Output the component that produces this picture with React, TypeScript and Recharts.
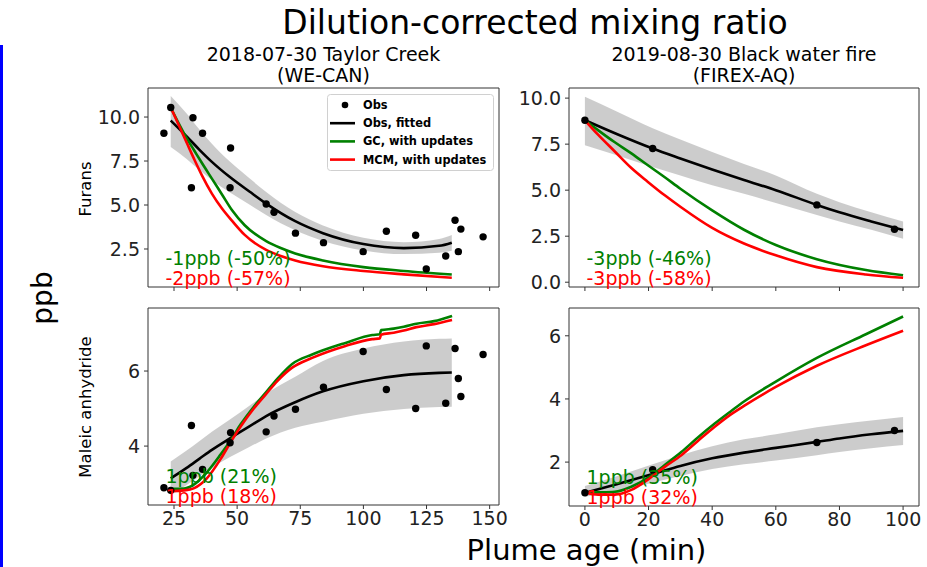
import React from 'react';
import { Area, ComposedChart, Line, ReferenceArea, Scatter, XAxis, YAxis } from 'recharts';

// ---- 2018-07-30 Taylor Creek (WE-CAN) ----
const TC_OBS_AGE = [21.0, 23.7, 31.9, 32.5, 36.3, 47.2, 47.4, 61.5, 64.6, 73.1, 84.2, 99.9, 109.1, 120.7, 124.9, 132.6, 136.3, 137.6, 138.6, 147.4];
const tcFuransObs = [9.08, 10.54, 5.98, 9.96, 9.08, 5.98, 8.24, 5.06, 4.59, 3.4, 2.86, 2.35, 3.51, 3.28, 1.37, 2.1, 4.13, 2.35, 3.63, 3.19];
const tcMaleicObs = [2.89, 2.82, 4.55, 3.22, 3.38, 4.09, 4.36, 4.38, 4.8, 4.98, 5.57, 6.52, 5.51, 5.0, 6.67, 5.14, 6.6, 5.8, 5.32, 6.44];

const TC_FIT_AGE = [23.7, 30, 35, 40, 47, 55, 61.5, 73, 84, 100, 116, 130, 135];
const tcFuransFit = [9.8, 8.9, 8.15, 7.45, 6.6, 5.75, 5.08, 4.08, 3.4, 2.78, 2.55, 2.68, 2.86];
const tcFuransHi = [11.2, 10.2, 9.3, 8.48, 7.48, 6.5, 5.74, 4.6, 3.84, 3.14, 2.89, 3.07, 3.3];
const tcFuransLo = [8.3, 7.62, 7.0, 6.42, 5.72, 5.01, 4.43, 3.56, 2.96, 2.42, 2.21, 2.29, 2.4];
const tcMaleicFit = [3.14, 3.42, 3.66, 3.9, 4.2, 4.53, 4.8, 5.17, 5.46, 5.73, 5.89, 5.95, 5.96];
const tcMaleicHi = [3.59, 3.88, 4.13, 4.38, 4.7, 5.08, 5.4, 5.85, 6.27, 6.6, 6.79, 6.86, 6.87];
const tcMaleicLo = [2.69, 2.96, 3.19, 3.42, 3.7, 3.98, 4.2, 4.49, 4.65, 4.86, 4.99, 5.04, 5.05];

const TC_FURANS_MODEL_AGE = [23.7, 27, 30, 33, 36, 40, 44, 48, 53, 61.5, 67, 73, 84, 100, 116, 135];
const tcFuransGC = [10.54, 9.6, 8.8, 8.1, 7.4, 6.5, 5.6, 4.7, 3.85, 2.95, 2.57, 2.25, 1.85, 1.47, 1.25, 1.05];
const tcFuransMCM = [10.54, 9.5, 8.55, 7.6, 6.7, 5.65, 4.8, 4.1, 3.3, 2.45, 2.12, 1.85, 1.52, 1.25, 1.06, 0.87];

const TC_MALEIC_MODEL_AGE = [23.7, 29, 33, 38, 43.5, 47.4, 51.4, 56.6, 61.5, 66, 71.8, 79.7, 92.9, 103.5, 106.5, 107, 112, 116, 121, 128, 135.1];
const tcMaleicGC = [2.86, 2.87, 2.98, 3.3, 3.78, 4.15, 4.58, 5.05, 5.44, 5.8, 6.19, 6.44, 6.75, 6.96, 6.98, 7.09, 7.13, 7.18, 7.26, 7.33, 7.47];
const tcMaleicMCM = [2.8, 2.82, 2.88, 3.14, 3.66, 4.1, 4.52, 5.0, 5.39, 5.74, 6.09, 6.35, 6.67, 6.85, 6.87, 6.97, 7.02, 7.08, 7.17, 7.25, 7.36];

// ---- 2019-08-30 Black water fire (FIREX-AQ) ----
const BW_OBS_AGE = [0, 21.3, 72.9, 97.3];
const bwFuransObs = [8.8, 7.26, 4.2, 2.88];
const bwMaleicObs = [1.03, 1.76, 2.62, 3.0];

const BW_FIT_AGE = [0, 10, 21.3, 30, 40, 50, 60, 72.9, 80, 90, 100];
const bwFuransFit = [8.8, 8.05, 7.26, 6.72, 6.12, 5.55, 5.0, 4.2, 3.8, 3.3, 2.83];
const bwFuransHi = [10.07, 9.28, 8.36, 7.75, 7.07, 6.42, 5.8, 4.8, 4.35, 3.8, 3.3];
const bwFuransLo = [7.44, 6.9, 6.26, 5.8, 5.27, 4.8, 4.3, 3.65, 3.3, 2.85, 2.36];
const bwMaleicFit = [1.03, 1.3, 1.62, 1.88, 2.12, 2.3, 2.45, 2.64, 2.75, 2.88, 2.99];
const bwMaleicHi = [1.24, 1.55, 1.93, 2.22, 2.5, 2.72, 2.88, 3.1, 3.2, 3.32, 3.43];
const bwMaleicLo = [0.9, 1.08, 1.35, 1.56, 1.78, 1.93, 2.05, 2.22, 2.32, 2.44, 2.54];

const BW_FURANS_MODEL_AGE = [0, 4.2, 9.4, 14.6, 19.8, 25.1, 30, 40, 50, 60, 72.9, 88.3, 100];
const bwFuransGC = [8.8, 8.25, 7.6, 7.0, 6.35, 5.7, 5.08, 3.9, 2.85, 2.02, 1.25, 0.66, 0.38];
const bwFuransMCM = [8.8, 8.0, 7.1, 6.2, 5.45, 4.72, 4.1, 2.95, 2.1, 1.46, 0.82, 0.42, 0.24];

const BW_MALEIC_MODEL_AGE = [0, 4.2, 9.4, 14.6, 20.4, 25.1, 30.3, 35.5, 40.8, 46, 50, 60, 72.9, 88.3, 100];
const bwMaleicGC = [1.03, 1.04, 1.06, 1.22, 1.54, 1.91, 2.32, 2.78, 3.22, 3.62, 3.92, 4.55, 5.3, 6.05, 6.61];
const bwMaleicMCM = [1.03, 0.97, 0.97, 1.12, 1.49, 1.85, 2.22, 2.67, 3.12, 3.52, 3.78, 4.38, 5.05, 5.7, 6.16];

// axis ticks
const TC_AGE_TICKS = [25, 50, 75, 100, 125, 150];
const BW_AGE_TICKS = [0, 20, 40, 60, 80, 100];
const FURANS_TICKS_TC = [2.5, 5, 7.5, 10];
const FURANS_TICKS_BW = [0, 2.5, 5, 7.5, 10];
const MALEIC_TICKS_TC = [4, 6];
const MALEIC_TICKS_BW = [2, 4, 6];

// change labels (model vs obs)
const tcFuransNotes = ['-1ppb (-50%)', '-2ppb (-57%)'];
const bwFuransNotes = ['-3ppb (-46%)', '-3ppb (-58%)'];
const tcMaleicNotes = ['1ppb (21%)', '1ppb (18%)'];
const bwMaleicNotes = ['1ppb (35%)', '1ppb (32%)'];

const LEGEND_NAMES = ['Obs', 'Obs, fitted', 'GC, with updates', 'MCM, with updates'];

const INK = '#333';
const GREEN = '#008000';
const RED = '#ff0000';
const FONT = '"DejaVu Sans", Verdana, sans-serif';

type Pt = { x: number; y: number };
type BandPt = { x: number; band: [number, number] };

const pts = (xs: number[], ys: number[]): Pt[] => xs.map((x, i) => ({ x, y: ys[i] }));
const bandPts = (xs: number[], lo: number[], hi: number[]): BandPt[] =>
  xs.map((x, i) => ({ x, band: [lo[i], hi[i]] }));

interface Box { left: number; top: number; right: number; bottom: number }

interface PanelProps {
  box: Box;
  xDomain: [number, number];
  yDomain: [number, number];
  xTicks: number[];
  yTicks: number[];
  showXLabels: boolean;
  decimals: number;
  obs: Pt[];
  fit: Pt[];
  band: BandPt[];
  gc: Pt[];
  mcm: Pt[];
}

const Y_AXIS_W = 60;
const PAD_T = 10;
const PAD_R = 10;
const X_AXIS_H = 32;
const tickFont = { fontSize: 19, fill: '#222', fontFamily: FONT };

function Panel(p: PanelProps) {
  const { box } = p;
  const w = box.right - box.left + Y_AXIS_W + PAD_R;
  const h = box.bottom - box.top + PAD_T + X_AXIS_H;
  return (
    <div style={{ position: 'absolute', left: box.left - Y_AXIS_W, top: box.top - PAD_T }}>
      <ComposedChart width={w} height={h} margin={{ top: PAD_T, right: PAD_R, bottom: 0, left: 0 }}>
        <XAxis
          type="number"
          dataKey="x"
          domain={p.xDomain}
          ticks={p.xTicks}
          interval={0}
          allowDataOverflow
          axisLine={false}
          tickLine={{ stroke: INK }}
          tickSize={4}
          tickMargin={3}
          height={X_AXIS_H}
          tick={tickFont}
          tickFormatter={(v: number) => (p.showXLabels ? String(v) : '')}
        />
        <YAxis
          type="number"
          domain={p.yDomain}
          ticks={p.yTicks}
          interval={0}
          allowDataOverflow
          axisLine={false}
          tickLine={{ stroke: INK }}
          tickSize={4}
          tickMargin={4}
          width={Y_AXIS_W}
          tick={tickFont}
          tickFormatter={(v: number) => v.toFixed(p.decimals)}
        />
        <Area
          data={p.band}
          dataKey="band"
          type="monotone"
          stroke="none"
          fill="#808080"
          fillOpacity={0.4}
          isAnimationActive={false}
        />
        <Scatter
          data={p.obs}
          dataKey="y"
          isAnimationActive={false}
          shape={(s: any) => <circle cx={s.cx} cy={s.cy} r={3.7} fill="#000" />}
        />
        <Line data={p.fit} dataKey="y" type="monotone" stroke="#000" strokeWidth={2.6} dot={false} isAnimationActive={false} />
        <Line data={p.gc} dataKey="y" type="monotone" stroke={GREEN} strokeWidth={2.6} dot={false} isAnimationActive={false} />
        <Line data={p.mcm} dataKey="y" type="monotone" stroke={RED} strokeWidth={2.6} dot={false} isAnimationActive={false} />
        <ReferenceArea
          x1={p.xDomain[0]}
          x2={p.xDomain[1]}
          y1={p.yDomain[0]}
          y2={p.yDomain[1]}
          fill="none"
          stroke={INK}
          strokeWidth={1}
          ifOverflow="visible"
        />
      </ComposedChart>
    </div>
  );
}

const TL: Box = { left: 148, top: 88, right: 499, bottom: 287 };
const TR: Box = { left: 569, top: 88, right: 919, bottom: 287 };
const BL: Box = { left: 148, top: 308, right: 499, bottom: 505 };
const BR: Box = { left: 569, top: 308, right: 919, bottom: 506 };

function Notes({ box, lines }: { box: Box; lines: string[] }) {
  return (
    <>
      <text x={box.left + 17.5} y={box.bottom - 22} fill={GREEN} fontSize={19}>{lines[0]}</text>
      <text x={box.left + 17.5} y={box.bottom - 2} fill={RED} fontSize={19}>{lines[1]}</text>
    </>
  );
}

function LegendBox() {
  const rows = [0, 1, 2, 3];
  const colors = ['#000', '#000', GREEN, RED];
  return (
    <svg width={167} height={77} style={{ position: 'absolute', left: 327, top: 94 }}>
      <rect x={0.5} y={0.5} width={166} height={76} rx={3} fill="rgba(255,255,255,0.85)" stroke="#d0d0d0" />
      {rows.map((i) => {
        const cy = 11 + i * 18.2;
        return (
          <g key={i}>
            {i === 0 ? (
              <circle cx={18} cy={cy} r={3.3} fill="#000" />
            ) : (
              <line x1={3} x2={28} y1={cy} y2={cy} stroke={colors[i]} strokeWidth={2.6} />
            )}
            <text x={36} y={cy} dominantBaseline="central" fontSize={11.4} fontWeight="bold" fill="#000" fontFamily={FONT}>
              {LEGEND_NAMES[i]}
            </text>
          </g>
        );
      })}
    </svg>
  );
}

export default function App() {
  return (
    <div
      style={{
        position: 'absolute',
        left: 0,
        top: 0,
        width: 927,
        height: 567,
        background: '#fff',
        fontFamily: FONT,
        overflow: 'hidden',
      }}
    >
      <div style={{ position: 'absolute', left: 0, top: 45, width: 3, height: 522, background: '#0000ff' }} />
      <Panel
        box={TL}
        xDomain={[14.7, 153.7]}
        yDomain={[0.34, 11.65]}
        xTicks={TC_AGE_TICKS}
        yTicks={FURANS_TICKS_TC}
        showXLabels={false}
        decimals={1}
        obs={pts(TC_OBS_AGE, tcFuransObs)}
        fit={pts(TC_FIT_AGE, tcFuransFit)}
        band={bandPts(TC_FIT_AGE, tcFuransLo, tcFuransHi)}
        gc={pts(TC_FURANS_MODEL_AGE, tcFuransGC)}
        mcm={pts(TC_FURANS_MODEL_AGE, tcFuransMCM)}
      />
      <Panel
        box={TR}
        xDomain={[-5, 105]}
        yDomain={[-0.26, 10.55]}
        xTicks={BW_AGE_TICKS}
        yTicks={FURANS_TICKS_BW}
        showXLabels={false}
        decimals={1}
        obs={pts(BW_OBS_AGE, bwFuransObs)}
        fit={pts(BW_FIT_AGE, bwFuransFit)}
        band={bandPts(BW_FIT_AGE, bwFuransLo, bwFuransHi)}
        gc={pts(BW_FURANS_MODEL_AGE, bwFuransGC)}
        mcm={pts(BW_FURANS_MODEL_AGE, bwFuransMCM)}
      />
      <Panel
        box={BL}
        xDomain={[14.7, 153.7]}
        yDomain={[2.43, 7.68]}
        xTicks={TC_AGE_TICKS}
        yTicks={MALEIC_TICKS_TC}
        showXLabels
        decimals={0}
        obs={pts(TC_OBS_AGE, tcMaleicObs)}
        fit={pts(TC_FIT_AGE, tcMaleicFit)}
        band={bandPts(TC_FIT_AGE, tcMaleicLo, tcMaleicHi)}
        gc={pts(TC_MALEIC_MODEL_AGE, tcMaleicGC)}
        mcm={pts(TC_MALEIC_MODEL_AGE, tcMaleicMCM)}
      />
      <Panel
        box={BR}
        xDomain={[-5, 105]}
        yDomain={[0.61, 6.88]}
        xTicks={BW_AGE_TICKS}
        yTicks={MALEIC_TICKS_BW}
        showXLabels
        decimals={0}
        obs={pts(BW_OBS_AGE, bwMaleicObs)}
        fit={pts(BW_FIT_AGE, bwMaleicFit)}
        band={bandPts(BW_FIT_AGE, bwMaleicLo, bwMaleicHi)}
        gc={pts(BW_MALEIC_MODEL_AGE, bwMaleicGC)}
        mcm={pts(BW_MALEIC_MODEL_AGE, bwMaleicMCM)}
      />
      <svg
        width={927}
        height={567}
        style={{ position: 'absolute', left: 0, top: 0, pointerEvents: 'none' }}
        fontFamily={FONT}
      >
        <text x={535} y={34} textAnchor="middle" fontSize={33} fill="#000">Dilution-corrected mixing ratio</text>
        <text x={323.5} y={61} textAnchor="middle" fontSize={19} fill="#000">2018-07-30 Taylor Creek</text>
        <text x={323.5} y={82} textAnchor="middle" fontSize={19} fill="#000">(WE-CAN)</text>
        <text x={744} y={61} textAnchor="middle" fontSize={19} fill="#000">2019-08-30 Black water fire</text>
        <text x={744} y={82} textAnchor="middle" fontSize={19} fill="#000">(FIREX-AQ)</text>
        <text x={0} y={0} transform="translate(42,298) rotate(-90)" textAnchor="middle" dominantBaseline="central" fontSize={28} fill="#000">ppb</text>
        <text x={0} y={0} transform="translate(85,189) rotate(-90)" textAnchor="middle" dominantBaseline="central" fontSize={16.5} fill="#000">Furans</text>
        <text x={0} y={0} transform="translate(85,407) rotate(-90)" textAnchor="middle" dominantBaseline="central" fontSize={16.5} fill="#000">Maleic anhydride</text>
        <text x={586.5} y={560} textAnchor="middle" fontSize={29} fill="#000">Plume age (min)</text>
        <Notes box={TL} lines={tcFuransNotes} />
        <Notes box={TR} lines={bwFuransNotes} />
        <Notes box={BL} lines={tcMaleicNotes} />
        <Notes box={BR} lines={bwMaleicNotes} />
      </svg>
      <LegendBox />
    </div>
  );
}
